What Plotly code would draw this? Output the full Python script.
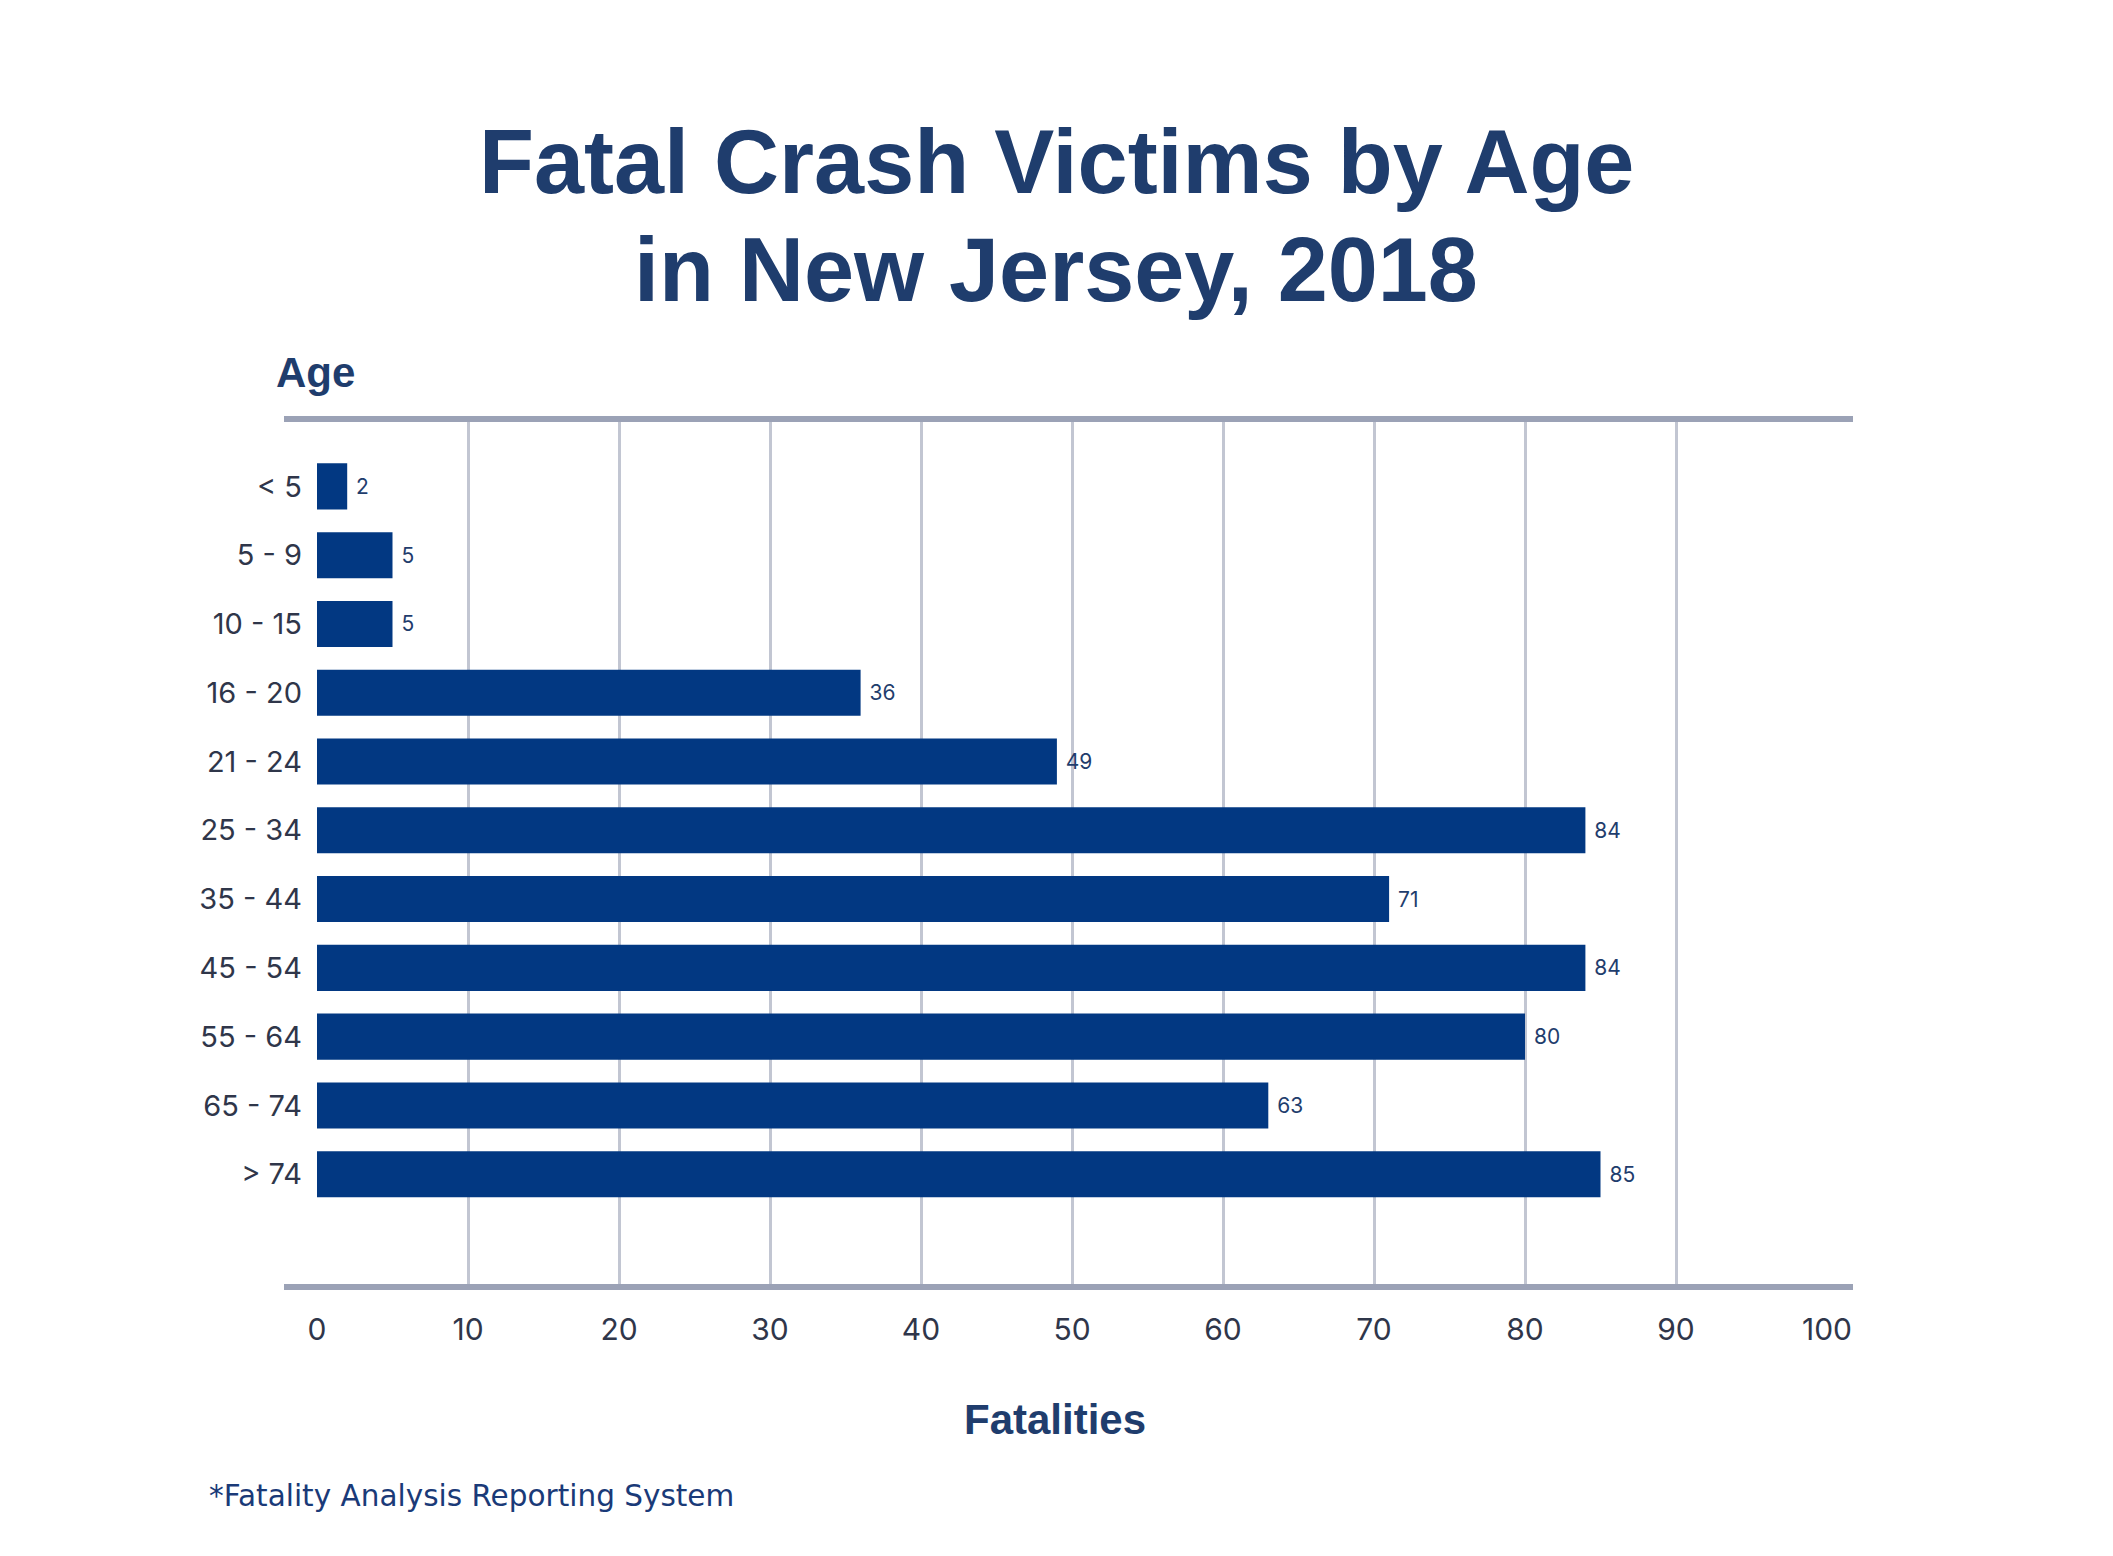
import plotly.graph_objects as go

age_groups = ["< 5", "5 - 9", "10 - 15", "16 - 20", "21 - 24", "25 - 34",
              "35 - 44", "45 - 54", "55 - 64", "65 - 74", "> 74"]
fatalities = [2, 5, 5, 36, 49, 84, 71, 84, 80, 63, 85]
x_ticks = [0, 10, 20, 30, 40, 50, 60, 70, 80, 90, 100]

NAVY = "#1f3d6d"
BAR = "#023882"
TICK = "#2f364a"

OFF = 8  # page body margin
W, H = 2113 - OFF, 1556 - OFF
L, T = 317 - OFF, 419 - OFF
R = 2113 - 1827
B = 1556 - 1287
PW, PH = W - L - R, H - T - B


def px(x):
    return (x - OFF - L) / PW


def py(y):
    return (T + PH - (y - OFF)) / PH


fig = go.Figure()
fig.add_trace(go.Bar(
    x=fatalities,
    y=list(range(len(age_groups))),
    orientation="h",
    marker=dict(color=BAR, line=dict(width=0)),
    text=["\u00a0" + str(v) for v in fatalities],
    textposition="outside",
    cliponaxis=False,
    constraintext="none",
    textfont=dict(family="Inter, Liberation Sans, sans-serif", size=21, color=NAVY),
    hoverinfo="skip",
))

fig.update_layout(
    width=W, height=H,
    margin=dict(l=L, r=R, t=T, b=B, pad=0),
    paper_bgcolor="white", plot_bgcolor="white",
    bargap=0.33,
    showlegend=False,
    xaxis=dict(
        range=[0, 100], tickvals=x_ticks, ticktext=[str(t) for t in x_ticks],
        showgrid=True, gridcolor="#c2c6d2", gridwidth=3,
        zeroline=False, showline=False, ticks="",
        ticklabelstandoff=22,
        tickfont=dict(family="Inter, Liberation Sans, sans-serif", size=30, color=TICK),
        fixedrange=True,
    ),
    yaxis=dict(
        range=[11.64, -0.98],
        tickvals=list(range(len(age_groups))), ticktext=age_groups,
        showgrid=False, zeroline=False, showline=False, ticks="",
        ticklabelstandoff=14,
        tickfont=dict(family="Inter, Liberation Sans, sans-serif", size=29, color=TICK),
        fixedrange=True,
    ),
    font=dict(family="Inter, Liberation Sans, sans-serif"),
)

# heavy top and bottom rules
for yy in (0, 1):
    fig.add_shape(type="line", xref="paper", yref="paper",
                  x0=px(284), x1=px(1853), y0=yy, y1=yy,
                  line=dict(color="#9ba2b6", width=6), layer="above")

title_font = dict(family="Liberation Sans, Arial, sans-serif", size=90, color=NAVY)
fig.add_annotation(text="<b>Fatal Crash Victims by Age</b>", xref="paper", yref="paper",
                   x=px(1056), y=py(162), xanchor="center", yanchor="middle",
                   showarrow=False, font=title_font)
fig.add_annotation(text="<b>in New Jersey, 2018</b>", xref="paper", yref="paper",
                   x=px(1056), y=py(270), xanchor="center", yanchor="middle",
                   showarrow=False, font=title_font)
fig.add_annotation(text="<b>Age</b>", xref="paper", yref="paper",
                   x=px(274), y=py(373), xanchor="left", yanchor="middle",
                   showarrow=False,
                   font=dict(family="Liberation Sans, Arial, sans-serif", size=42, color=NAVY))
fig.add_annotation(text="<b>Fatalities</b>", xref="paper", yref="paper",
                   x=px(1055), y=py(1419), xanchor="center", yanchor="middle",
                   showarrow=False,
                   font=dict(family="Liberation Sans, Arial, sans-serif", size=42, color=NAVY))
fig.add_annotation(text="*Fatality Analysis Reporting System", xref="paper", yref="paper",
                   x=px(207), y=py(1496), xanchor="left", yanchor="middle",
                   showarrow=False,
                   font=dict(family="DejaVu Sans, sans-serif", size=29.5, color="#1a3a78"))

fig.write_html("out.html")
